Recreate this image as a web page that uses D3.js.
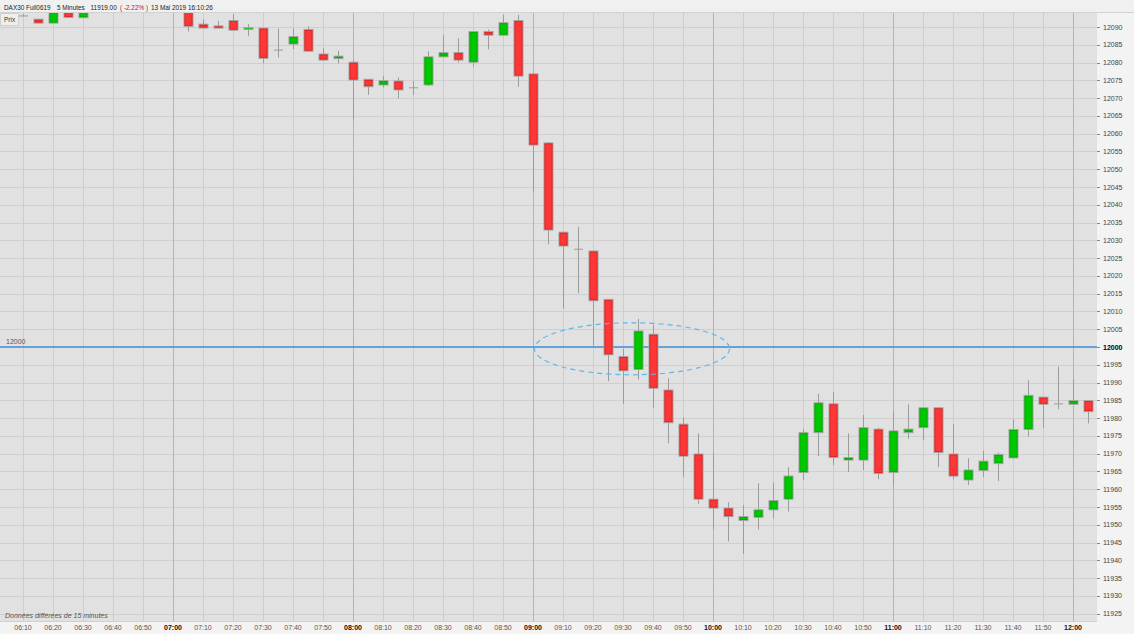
<!DOCTYPE html>
<html><head><meta charset="utf-8">
<script src="https://cdn.jsdelivr.net/npm/d3@7"></script>
<style>body{margin:0;background:#fff;}svg{display:block;font-family:"Liberation Sans",Arial,sans-serif;}</style>
</head><body>
<svg id="chart" width="1134" height="634"></svg>
<script>
const times = ["06:10","06:15","06:20","06:25","06:30","07:05","07:10","07:15","07:20","07:25","07:30","07:35","07:40","07:45","07:50","07:55","08:00","08:05","08:10","08:15","08:20","08:25","08:30","08:35","08:40","08:45","08:50","08:55","09:00","09:05","09:10","09:15","09:20","09:25","09:30","09:35","09:40","09:45","09:50","09:55","10:00","10:05","10:10","10:15","10:20","10:25","10:30","10:35","10:40","10:45","10:50","10:55","11:00","11:05","11:10","11:15","11:20","11:25","11:30","11:35","11:40","11:45","11:50","11:55","12:00","12:05"];
const opens  = [12093.1,12092.2,12091.1,12095,12092.6,12094.5,12090.8,12090.3,12091.8,12089.3,12089.7,12083.5,12085.2,12089.3,12082.4,12081.1,12080.1,12075.3,12073.7,12074.8,12072.9,12073.7,12081.6,12082.8,12080.1,12088.7,12087.7,12091.8,12076.8,12057.4,12032.3,12027.5,12027.0,12013.4,11997.3,11993.7,12003.6,11987.9,11978.3,11969.9,11957.2,11954.7,11951.2,11952.1,11954.2,11957.2,11964.7,11975.9,11984.0,11968.2,11968.2,11976.9,11964.7,11975.9,11977.3,11982.9,11969.9,11962.6,11965.3,11967.2,11968.8,11976.8,11985.9,11984.0,11983.9,11984.9];
const highs  = [12093.6,12092.2,12095,12095,12095,12094.5,12092.1,12091.7,12093.6,12090.8,12089.7,12089.6,12089.6,12090.2,12084.0,12083.3,12080.7,12075.3,12076.2,12075.8,12074.8,12083.2,12087.7,12086.8,12088.7,12089.3,12093.4,12093.4,12076.8,12057.4,12032.3,12033.8,12027.0,12013.4,11999.5,12007.9,12006.2,11991.2,11980.2,11975.7,11970.3,11956.3,11955.6,11961.7,11961.8,11966.2,11976.9,11986.8,11987.3,11975.7,11980.9,11977.3,11981.8,11983.9,11982.9,11982.9,11978.3,11968.7,11970.8,11970.3,11979.7,11990.7,11985.9,11994.5,11990.9,11984.9];
const lows   = [12093.0,12091.1,12091.1,12092.7,12092.6,12088.7,12089.7,12089.6,12089.1,12087.4,12079.8,12081.4,12083.8,12083.2,12080.7,12079.8,12064.0,12070.9,12073.0,12069.9,12070.9,12073.4,12081.6,12080.0,12078.8,12083.7,12087.6,12073.2,12043.5,12028.9,12010.9,12015.1,12000.4,11990.4,11984.0,11990.9,11982.9,11972.9,11963.4,11955.9,11948.7,11945.3,11941.8,11948.7,11951.8,11953.7,11962.6,11969.3,11966.8,11964.8,11965.4,11962.8,11960.7,11974.2,11973.8,11966.2,11962.8,11961.2,11963.4,11962.3,11968.8,11974.8,11977.3,11982.5,11983.9,11978.5];
const closes = [12093.1,12091.1,12095,12092.7,12095,12090.2,12089.7,12089.7,12089.1,12089.8,12081.2,12083.5,12087.3,12083.2,12080.7,12081.8,12075.1,12073.2,12074.9,12072.3,12072.9,12081.6,12082.8,12080.7,12088.7,12087.7,12091.2,12076.2,12056.8,12032.9,12028.4,12027.5,12013.0,11997.8,11993.3,12004.5,11988.4,11978.7,11969.3,11957.2,11954.7,11952.3,11952.3,11954.2,11956.8,11963.7,11975.9,11984.3,11968.9,11968.9,11977.3,11964.4,11976.4,11976.9,11982.9,11970.3,11963.7,11965.4,11967.9,11969.8,11976.8,11986.4,11983.9,11984.0,11984.9,11981.8];
const priceTicks = d3.range(11925, 12091, 5);
const timeTickLabels = ["06:10","06:20","06:30","06:40","06:50","07:00","07:10","07:20","07:30","07:40","07:50","08:00","08:10","08:20","08:30","08:40","08:50","09:00","09:10","09:20","09:30","09:40","09:50","10:00","10:10","10:20","10:30","10:40","10:50","11:00","11:10","11:20","11:30","11:40","11:50","12:00"];
const headerItems = ["DAX30 Full0619","5 Minutes","11919.00","( -2.22% )","13 Mai 2019 16:10:26"];
const refLevel = 12000;
const zoneCenter = {time:"09:33", price:11999.5};

const parse = s => { const [h,m] = s.split(":").map(Number); return new Date(2019,4,13,h,m); };
const svg = d3.select("#chart");
const W = 1134, H = 634;
const plot = {left:0, right:1097, top:13, bottom:621};

const x = d3.scaleTime().domain([new Date(2019,4,13,6,2,20), new Date(2019,4,13,12,8,0)]).range([plot.left, plot.right]);
const y = d3.scaleLinear().domain([12000, 12090]).range([347, 27]);

// backgrounds
svg.append("rect").attr("width",W).attr("height",H).attr("fill","#f3f3f3");
svg.append("rect").attr("x",plot.left).attr("y",plot.top).attr("width",plot.right-plot.left).attr("height",plot.bottom-plot.top).attr("fill","#e1e1e1");
svg.append("rect").attr("x",0).attr("y",0).attr("width",W).attr("height",12).attr("fill","#f0f0f0");
svg.append("line").attr("x1",0).attr("x2",W).attr("y1",12.5).attr("y2",12.5).attr("stroke","#d2d2d2");

const defs = svg.append("defs");
defs.append("clipPath").attr("id","clip").append("rect").attr("x",plot.left).attr("y",plot.top).attr("width",plot.right-plot.left).attr("height",plot.bottom-plot.top);

const g = svg.append("g").attr("clip-path","url(#clip)");
// horizontal grid
g.selectAll(".hg").data(priceTicks).join("line")
  .attr("x1",plot.left).attr("x2",plot.right)
  .attr("y1",d=>Math.round(y(d))+0.5).attr("y2",d=>Math.round(y(d))+0.5)
  .attr("stroke","#cfcfcf").attr("stroke-width",1);
// vertical grid
g.selectAll(".vg").data(timeTickLabels).join("line")
  .attr("x1",d=>Math.round(x(parse(d)))+0.5).attr("x2",d=>Math.round(x(parse(d)))+0.5)
  .attr("y1",plot.top).attr("y2",plot.bottom)
  .attr("stroke",d=>d.endsWith(":00")?"#b4b4b4":"#cdcdcd").attr("stroke-width",1);

// bottom notice band
svg.append("line").attr("x1",0).attr("x2",plot.right).attr("y1",plot.bottom+0.5).attr("y2",plot.bottom+0.5).attr("stroke","#d0d0d0");
svg.append("text").attr("x",5).attr("y",618).attr("font-size",7).attr("font-style","italic").attr("fill","#555").text("Données différées de 15 minutes");

// reference line
g.append("line").attr("x1",plot.left).attr("x2",plot.right).attr("y1",y(refLevel)).attr("y2",y(refLevel)).attr("stroke","#3d8fd6").attr("stroke-width",1.3);
svg.append("text").attr("x",6).attr("y",y(refLevel)-3).attr("font-size",7).attr("fill","#555").text("12000");

// candles
const data = times.map((t,i)=>({t:parse(t),o:opens[i],h:highs[i],l:lows[i],c:closes[i]}));
const cg = g.append("g");
const bw = 9;
data.forEach(d=>{
  const cx = Math.round(x(d.t))+0.5;
  cg.append("line").attr("x1",cx).attr("x2",cx).attr("y1",y(d.h)).attr("y2",y(d.l)).attr("stroke","#9c9c9c").attr("stroke-width",1);
  if (Math.abs(d.o-d.c) < 0.3) {
    cg.append("line").attr("x1",cx-4.5).attr("x2",cx+4.5).attr("y1",y(d.o)).attr("y2",y(d.o)).attr("stroke","#9c9c9c").attr("stroke-width",1);
  } else {
    const up = d.c > d.o;
    const top = y(Math.max(d.o,d.c)), bot = y(Math.min(d.o,d.c));
    cg.append("rect").attr("x",cx-bw/2).attr("y",top).attr("width",bw).attr("height",Math.max(1,bot-top))
      .attr("fill",up?"#00c800":"#ff3636").attr("stroke","#a4a4a4").attr("stroke-width",1);
    cg.append("rect").attr("x",cx-bw/2+1).attr("y",top+1).attr("width",bw-2).attr("height",Math.max(0,bot-top-2))
      .attr("fill","none").attr("stroke",up?"#00a000":"#c82020").attr("stroke-width",0.6);
  }
});

// dashed ellipse
g.append("ellipse").attr("cx",x(parse(zoneCenter.time))).attr("cy",y(zoneCenter.price))
  .attr("rx",97.5).attr("ry",26).attr("fill","none").attr("stroke","#5ab8f0").attr("stroke-width",1.2).attr("stroke-dasharray","5,4");

// right axis
const ya = svg.append("g").attr("transform",`translate(${plot.right},0)`);
ya.selectAll("line").data(priceTicks).join("line").attr("x1",0).attr("x2",3)
  .attr("y1",d=>Math.round(y(d))+0.5).attr("y2",d=>Math.round(y(d))+0.5).attr("stroke","#888");
ya.selectAll("text").data(priceTicks).join("text").attr("x",6).attr("y",d=>y(d)+2.5)
  .attr("font-size",7).attr("fill",d=>d===refLevel?"#000":"#444").attr("font-weight",d=>d===refLevel?"bold":"normal").text(d=>d);

// bottom axis
const xa = svg.append("g");
xa.selectAll("text").data(timeTickLabels).join("text").attr("x",d=>x(parse(d))).attr("y",630)
  .attr("text-anchor","middle").attr("font-size",7).attr("fill",d=>d.endsWith(":00")?"#111":"#555")
  .attr("font-weight",d=>d.endsWith(":00")?"bold":"normal").text(d=>d);

// header
const hx = [4, 57, 90.5, 120, 151];
svg.selectAll(".hdr").data(headerItems).join("text").attr("class","hdr")
  .attr("x",(d,i)=>hx[i]).attr("y",9.5).attr("font-size",6.4)
  .attr("fill",(d,i)=>i===3?"#b02020":"#222").text(d=>d);

// Prix box
svg.append("rect").attr("x",0.5).attr("y",13.5).attr("width",18).attr("height",12).attr("fill","#efefef").attr("stroke","#d0d0d0");
svg.append("text").attr("x",4).attr("y",22).attr("font-size",6.5).attr("fill","#333").text("Prix");
</script>
</body></html>
